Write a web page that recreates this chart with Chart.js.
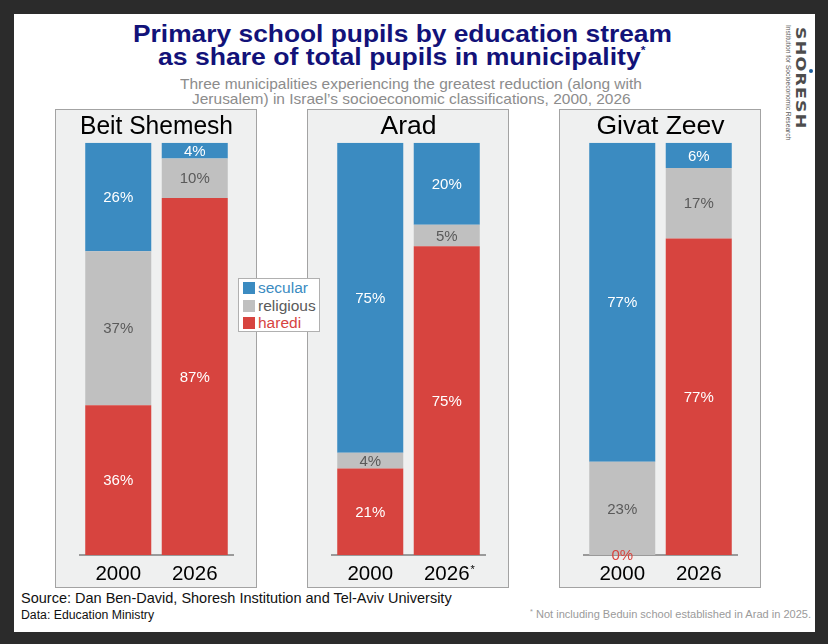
<!DOCTYPE html>
<html>
<head>
<meta charset="utf-8">
<script src="https://cdn.jsdelivr.net/npm/chart.js@4.4.1/dist/chart.umd.min.js"></script>
<style>
  body { margin: 0; width: 828px; height: 644px; background: #2b2b2b; overflow: hidden; position: relative;
         font-family: "Liberation Sans", Arial, sans-serif; }
  #card { position: absolute; left: 14px; top: 14px; width: 801px; height: 618px; background: #fff; }
  .txt { position: absolute; white-space: nowrap; transform-origin: 0 0; }
  .panel { position: absolute; top: 109px; width: 202px; height: 479px; box-sizing: border-box;
           background: #eff0f0; border: 1px solid #a3a3a3; }
  .panel canvas { position: absolute; left: 0; top: 0; }
  #legend { position: absolute; left: 238px; top: 278px; width: 82px; height: 54px; box-sizing: border-box;
            background: #fff; border: 1px solid #b0b0b0; z-index: 5; padding: 0 0 0 4px; }
  #legend div { height: 17.5px; line-height: 17.5px; font-size: 15.5px; white-space: nowrap; }
  #legend span { display: inline-block; width: 12px; height: 12px; margin-right: 3px; vertical-align: -1px; }
  .rot { position: absolute; white-space: nowrap; transform-origin: 0 0; }
</style>
</head>
<body>
<div id="card"></div>

<div class="txt" data-w="539" style="left:133px;top:21.5px;font-size:24px;line-height:24px;font-weight:bold;color:#121279">Primary school pupils by education stream</div>
<div class="txt" data-w="487" style="left:158px;top:44.5px;font-size:24px;line-height:24px;font-weight:bold;color:#121279">as share of total pupils in municipality<sup style="font-size:11px;vertical-align:11px;line-height:0">*</sup></div>
<div class="txt" data-w="462" style="left:180px;top:77px;font-size:14.5px;line-height:14.5px;color:#8c8c8c">Three municipalities experiencing the greatest reduction (along with</div>
<div class="txt" data-w="439" style="left:192px;top:91.5px;font-size:14.5px;line-height:14.5px;color:#8c8c8c">Jerusalem) in Israel’s socioeconomic classifications, 2000, 2026</div>

<div class="txt" data-w="431" style="left:21px;top:591px;font-size:14.5px;line-height:14.5px;color:#111">Source: Dan Ben-David, Shoresh Institution and Tel-Aviv University</div>
<div class="txt" data-w="133" style="left:21px;top:608.5px;font-size:12px;line-height:12px;color:#111">Data: Education Ministry</div>
<div class="txt" data-w="281" style="left:530px;top:609px;font-size:10.5px;line-height:10.5px;color:#9a9a9a"><sup style="font-size:7px;vertical-align:4px;line-height:0">*</sup> Not including Beduin school established in Arad in 2025.</div>

<div class="rot" data-w="103" style="left:808px;top:27px;font-family:'DejaVu Sans',sans-serif;font-size:14.5px;line-height:14.5px;font-weight:bold;color:#4d4d4d;letter-spacing:1px">SHORESH</div>
<div class="rot" data-w="115" style="left:792px;top:25px;font-size:7px;line-height:7px;color:#5a5a5a">Institution for Socioeconomic Research</div>
<div style="position:absolute;left:809px;top:69px;width:4px;height:4px;border-radius:2px;background:#1d5e9c"></div>

<div id="legend"></div>

<script>
// categories
const cities = ['Beit Shemesh', 'Arad', 'Givat Zeev'];
const years = ['2000', '2026'];
const seriesNames = ['secular', 'religious', 'haredi'];

// share of pupils (%), per city: [2000, 2026]
const secular   = [[26.3, 3.8], [75.2, 19.9], [77.4, 6.1]];
const religious = [[37.4, 9.6], [3.8, 5.2],   [22.6, 17.1]];
const haredi    = [[36.3, 86.6], [21.0, 74.9], [0, 76.8]];

// which year label carries the footnote mark, per city
const yearNotes = ['', '2026', ''];

const shares = [secular, religious, haredi];
const seriesColors = ['#3b8bc1', '#c0c0c0', '#d7443f'];
const labelColors = ['#ffffff', '#5a5a5a', '#ffffff'];
const legendTextColors = ['#3b8bc1', '#5a5a5a', '#d7443f'];
const stackOrder = [2, 1, 0]; // haredi at the bottom

Chart.defaults.font.family = '"Liberation Sans", Arial, sans-serif';

const valueLabels = {
  id: 'valueLabels',
  afterDatasetsDraw(chart) {
    const ctx = chart.ctx;
    ctx.save();
    ctx.font = '15px "Liberation Sans", Arial, sans-serif';
    ctx.textAlign = 'center';
    ctx.textBaseline = 'middle';
    chart.data.datasets.forEach((ds, i) => {
      const s = ds.seriesIndex;
      chart.getDatasetMeta(i).data.forEach((bar, j) => {
        const v = ds.data[j];
        const p = bar.getProps(['x', 'y', 'base'], true);
        ctx.fillStyle = v === 0 ? seriesColors[s] : labelColors[s];
        ctx.fillText(Math.round(v) + '%', p.x, (p.y + p.base) / 2 + 1);
      });
    });
    ctx.restore();
  }
};

const yearNote = {
  id: 'yearNote',
  afterDraw(chart, args, opts) {
    if (!opts.year) return;
    const xs = chart.scales.x;
    const idx = years.indexOf(opts.year);
    const ctx = chart.ctx;
    ctx.save();
    ctx.font = '20.5px "Liberation Sans", Arial, sans-serif';
    const w = ctx.measureText(opts.year).width;
    ctx.font = '11px "Liberation Sans", Arial, sans-serif';
    ctx.fillStyle = '#000';
    ctx.textAlign = 'left';
    ctx.textBaseline = 'top';
    ctx.fillText('*', xs.getPixelForTick(idx) + w / 2 + 1, xs.top + 9);
    ctx.restore();
  }
};

const panelLefts = [55, 307, 559];

cities.forEach((city, c) => {
  const panel = document.createElement('div');
  panel.className = 'panel';
  panel.style.left = panelLefts[c] + 'px';
  const cv = document.createElement('canvas');
  cv.width = 200; cv.height = 477;
  cv.style.width = '200px'; cv.style.height = '477px';
  panel.appendChild(cv);
  document.body.appendChild(panel);

  new Chart(cv, {
    type: 'bar',
    data: {
      labels: years,
      datasets: stackOrder.map(s => ({
        label: seriesNames[s],
        seriesIndex: s,
        data: shares[s][c],
        backgroundColor: seriesColors[s],
        borderWidth: 0,
        barPercentage: 0.863,
        categoryPercentage: 1
      }))
    },
    options: {
      responsive: false,
      animation: false,
      devicePixelRatio: 1,
      layout: { padding: { left: 24, right: 23, top: 0, bottom: 0 } },
      plugins: {
        legend: { display: false },
        tooltip: { enabled: false },
        title: {
          display: true, text: city, color: '#000',
          font: { size: 26.5, weight: 'normal' },
          padding: { top: 1, bottom: 0 }
        },
        yearNote: { year: yearNotes[c] }
      },
      scales: {
        x: {
          stacked: true,
          grid: { display: false, drawTicks: false },
          border: { display: true, color: '#9a9a9a', width: 2 },
          ticks: { color: '#000', font: { size: 20.5 }, padding: 7 },
          afterFit(scale) { scale.height = 32; }
        },
        y: { stacked: true, display: false, min: 0, max: 100 }
      }
    },
    plugins: [valueLabels, yearNote]
  });
});

// legend
const legend = document.getElementById('legend');
seriesNames.forEach((name, s) => {
  const row = document.createElement('div');
  row.style.color = legendTextColors[s];
  row.innerHTML = '<span style="background:' + seriesColors[s] + '"></span>' + name;
  legend.appendChild(row);
});

// squeeze/stretch text blocks to the widths in the picture
document.querySelectorAll('[data-w]').forEach(el => {
  const w = el.scrollWidth;
  const k = (+el.dataset.w / w).toFixed(3);
  el.style.transform = el.classList.contains('rot')
    ? 'rotate(90deg) scaleX(' + k + ')'
    : 'scaleX(' + k + ')';
});
</script>
</body>
</html>
